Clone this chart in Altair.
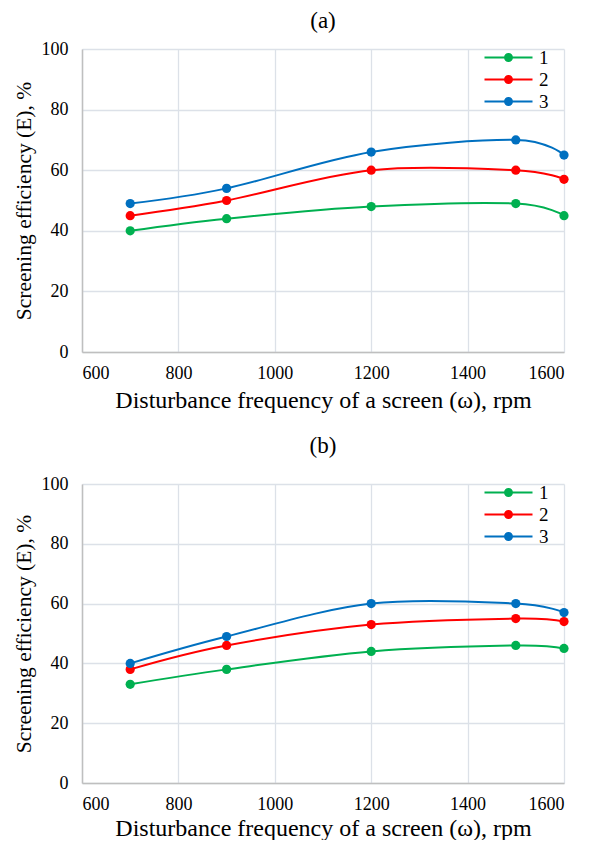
import altair as alt
import pandas as pd

freq = [700, 900, 1200, 1500, 1600]
series_names = ["1", "2", "3"]
a_1 = [40, 44, 48, 49, 45]
a_2 = [45, 50, 60, 60, 57]
a_3 = [49, 54, 66, 70, 65]
b_1 = [33, 38, 44, 46, 45]
b_2 = [38, 46, 53, 55, 54]
b_3 = [40, 49, 60, 60, 57]
colors = ["#00B050", "#FF0000", "#0070C0"]
x_ticks = [600, 800, 1000, 1200, 1400, 1600]
y_ticks = [0, 20, 40, 60, 80, 100]

FONT = "Liberation Serif"

# legend symbol: thin line with a filled dot in the middle (unit = 9 px)
LEG_PATH = ("M-2.667,-0.111H2.667V0.111H-2.667Z "
            "M0.5,0A0.5,0.5 0 1,1 -0.5,0A0.5,0.5 0 1,1 0.5,0Z")


def make_df(vals):
    rows = []
    for name, ys in zip(series_names, vals):
        for x, y in zip(freq, ys):
            rows.append({"series": name, "freq": x, "eff": y})
    return pd.DataFrame(rows)


def panel(vals, label, h, title_offset, xtitle_pad):
    df = make_df(vals)
    x = alt.X("freq:Q", scale=alt.Scale(domain=[600, 1600], nice=False, padding=0),
              axis=alt.Axis(values=x_ticks, format="d",
                            title="Disturbance frequency of a screen (ω), rpm",
                            titleFontSize=24,
                            grid=True, ticks=False, labelPadding=12,
                            titlePadding=xtitle_pad))
    y = alt.Y("eff:Q", scale=alt.Scale(domain=[0, 100], nice=False, padding=0),
              axis=alt.Axis(values=y_ticks, format="d", title="Screening efficiency (E), %",
                            titleFontSize=21.5,
                            grid=True, ticks=False, labelPadding=14, titlePadding=6))
    color_scale = alt.Scale(domain=series_names, range=colors)
    legend = alt.Legend(title=None, orient="none", legendX=417, legendY=-1,
                        symbolType=LEG_PATH, symbolSize=324,
                        symbolStrokeWidth=0, symbolOpacity=1,
                        labelFont=FONT, labelFontSize=19,
                        labelColor="black", labelOffset=21,
                        rowPadding=2, padding=0)
    base = alt.Chart(df)
    line = base.mark_line(interpolate="cardinal", strokeWidth=2).encode(
        x=x, y=y, color=alt.Color("series:N", scale=color_scale, legend=legend))
    pts = base.mark_point(filled=True, size=85, opacity=1).encode(
        x=x, y=y, color=alt.Color("series:N", scale=color_scale, legend=legend))
    return alt.layer(line, pts).properties(
        width=482, height=h,
        title=alt.TitleParams(label, font=FONT, fontSize=23, fontWeight="normal",
                              color="black", offset=title_offset))


top = panel([a_1, a_2, a_3], "(a)", 303, 7, 6)
bot = panel([b_1, b_2, b_3], "(b)", 299, 17, 3)

chart = alt.vconcat(top, bot, spacing=23).resolve_scale(
    color="independent").resolve_legend(color="independent").configure_view(
    stroke=None).configure_axis(
    labelFont=FONT, labelFontSize=18, labelColor="black",
    titleFont=FONT, titleFontWeight="normal", titleColor="black",
    gridColor="#DCE1E8", gridWidth=1.3, domainColor="#BFBFBF", domainWidth=1.5
).properties(padding={"left": 4, "top": 2, "right": 5, "bottom": 0})

chart.save("out.html", embed_options={"renderer": "svg", "actions": False})
